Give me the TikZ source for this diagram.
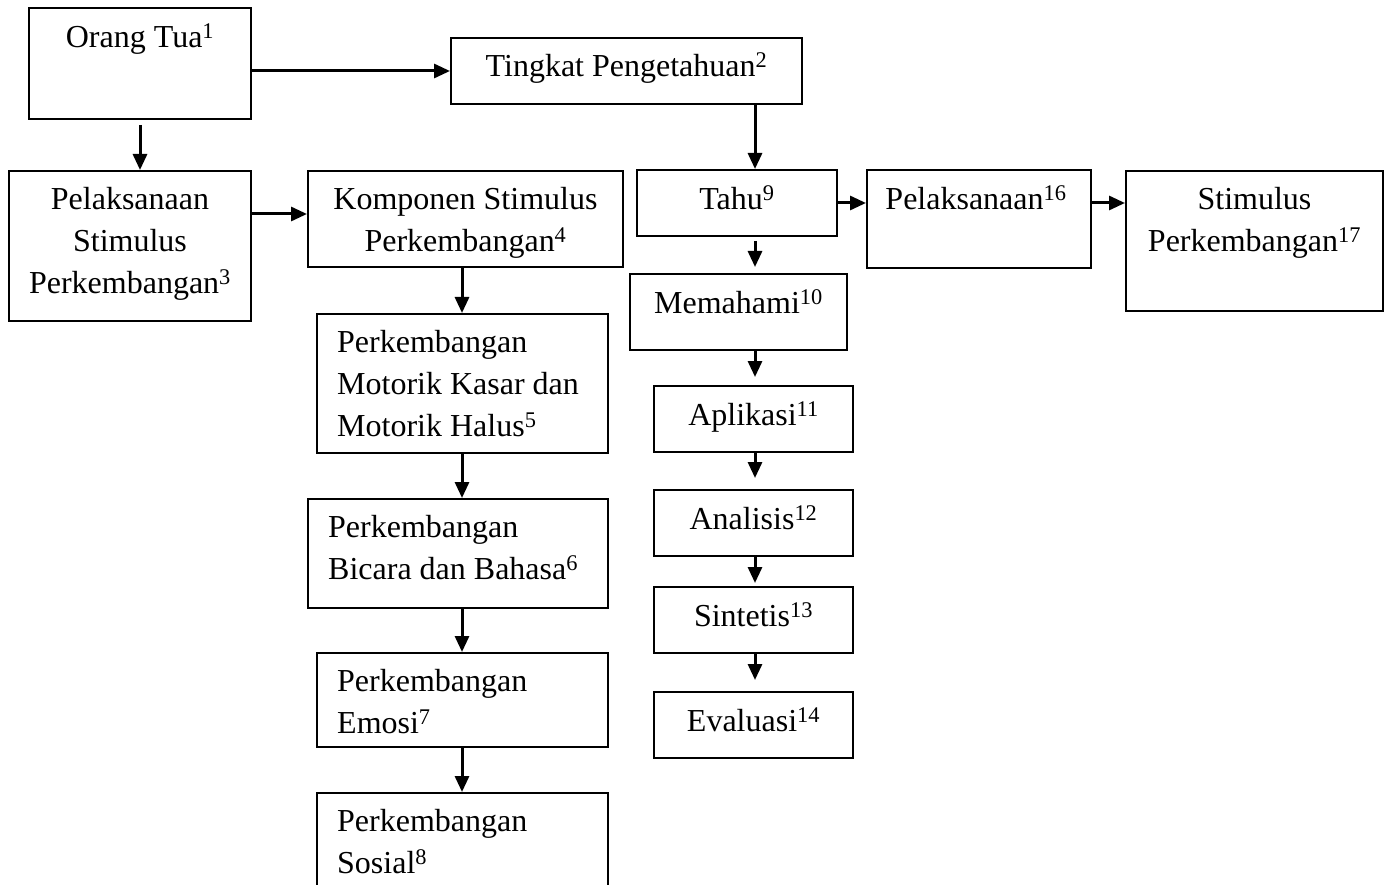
\documentclass[tikz,border=0pt]{standalone}
\usepackage{fontspec}
\setmainfont{Liberation Serif}
\usetikzlibrary{arrows.meta,calc,positioning}

\begin{document}
\begin{tikzpicture}[x=1pt,y=-1pt,>={Triangle[length=16pt,width=14pt]},
  kotak/.style={draw,line width=2pt,anchor=north west,inner sep=0pt},
  teks/.style={font=\fontsize{32}{42}\selectfont,inner sep=0pt,anchor=north,
    align=center,execute at begin node=\strut},
  tekskiri/.style={teks,anchor=north west,align=left},
  panah/.style={->,line width=3pt}]
 \useasboundingbox (0,0) rectangle (1387,885);
 \clip (0,0) rectangle (1387,885);
 % kotak-kotak
 \node[kotak,minimum width=222pt,minimum height=111pt] (ortu) at (28,7) {};
 \node[kotak,minimum width=351pt,minimum height=66pt] (tingkat) at (450,37) {};
 \node[kotak,minimum width=242pt,minimum height=150pt] (pelstim) at (8,170) {};
 \node[kotak,minimum width=315pt,minimum height=96pt] (komponen) at (307,170) {};
 \node[kotak,minimum width=291pt,minimum height=139pt] (motorik) at (316,313) {};
 \node[kotak,minimum width=300pt,minimum height=109pt] (bicara) at (307,498) {};
 \node[kotak,minimum width=291pt,minimum height=94pt] (emosi) at (316,652) {};
 \node[kotak,minimum width=291pt,minimum height=125pt] (sosial) at (316,792) {};
 \node[kotak,minimum width=200pt,minimum height=66pt] (tahu) at (636,169) {};
 \node[kotak,minimum width=217pt,minimum height=76pt] (memahami) at (629,273) {};
 \node[kotak,minimum width=199pt,minimum height=66pt] (aplikasi) at (653,385) {};
 \node[kotak,minimum width=199pt,minimum height=66pt] (analisis) at (653,489) {};
 \node[kotak,minimum width=199pt,minimum height=66pt] (sintetis) at (653,586) {};
 \node[kotak,minimum width=199pt,minimum height=66pt] (evaluasi) at (653,691) {};
 \node[kotak,minimum width=224pt,minimum height=98pt] (pelaksanaan) at (866,169) {};
 \node[kotak,minimum width=257pt,minimum height=140pt] (stimulus) at (1125,170) {};
 % isi teks
 \node[teks] (ortu-t) at ([yshift=-11pt]ortu.north) {Orang Tua\textsuperscript{1}};
 \node[teks] (tingkat-t) at ([yshift=-10pt]tingkat.north) {Tingkat Pengetahuan\textsuperscript{2}};
 \node[teks] (pelstim-t) at ([yshift=-10pt]pelstim.north) {\strut Pelaksanaan\\Stimulus\\Perkembangan\textsuperscript{3}};
 \node[teks] (komponen-t) at ([yshift=-10pt]komponen.north) {\strut Komponen Stimulus\\Perkembangan\textsuperscript{4}};
 \node[tekskiri] (motorik-t) at ([xshift=21pt,yshift=-10pt]motorik.north west) {\strut Perkembangan\\Motorik Kasar dan\\Motorik Halus\textsuperscript{5}};
 \node[tekskiri] (bicara-t) at ([xshift=21pt,yshift=-10pt]bicara.north west) {\strut Perkembangan\\Bicara dan Bahasa\textsuperscript{6}};
 \node[tekskiri] (emosi-t) at ([xshift=21pt,yshift=-10pt]emosi.north west) {\strut Perkembangan\\Emosi\textsuperscript{7}};
 \node[tekskiri] (sosial-t) at ([xshift=21pt,yshift=-10pt]sosial.north west) {\strut Perkembangan\\Sosial\textsuperscript{8}};
 \node[teks] (tahu-t) at ([yshift=-11pt]tahu.north) {Tahu\textsuperscript{9}};
 \node[teks] (memahami-t) at ([yshift=-11pt]memahami.north) {Memahami\textsuperscript{10}};
 \node[teks] (aplikasi-t) at ([yshift=-11pt]aplikasi.north) {Aplikasi\textsuperscript{11}};
 \node[teks] (analisis-t) at ([yshift=-11pt]analisis.north) {Analisis\textsuperscript{12}};
 \node[teks] (sintetis-t) at ([yshift=-11pt]sintetis.north) {Sintetis\textsuperscript{13}};
 \node[teks] (evaluasi-t) at ([yshift=-11pt]evaluasi.north) {Evaluasi\textsuperscript{14}};
 \node[teks] (pelaksanaan-t) at ([xshift=-3pt,yshift=-11pt]pelaksanaan.north) {Pelaksanaan\textsuperscript{16}};
 \node[teks] (stimulus-t) at ([yshift=-10pt]stimulus.north) {\strut Stimulus\\Perkembangan\textsuperscript{17}};
 % panah
 \coordinate (kiri) at (462,0);
 \coordinate (kanan) at (755,0);
 \draw[panah] (ortu.east |- tingkat.west) -- (tingkat.west);
 \draw[panah,shorten <=5pt] (ortu.south) -- (ortu.south |- pelstim.north);
 \draw[panah] ([yshift=5pt]komponen.west -| pelstim.east) -- ([yshift=5pt]komponen.west);
 \draw[panah] (kanan |- tingkat.south) -- (kanan |- tahu.north);
 \draw[panah] (tahu.east) -- (tahu.east -| pelaksanaan.west);
 \draw[panah] (pelaksanaan.east |- tahu.east) -- (stimulus.west |- tahu.east);
 \draw[panah] (kiri |- komponen.south) -- (kiri |- motorik.north);
 \draw[panah] (kiri |- motorik.south) -- (kiri |- bicara.north);
 \draw[panah] (kiri |- bicara.south) -- (kiri |- emosi.north);
 \draw[panah] (kiri |- emosi.south) -- (kiri |- sosial.north);
 \draw[panah,shorten <=4pt,shorten >=6pt] (kanan |- tahu.south) -- (kanan |- memahami.north);
 \draw[panah,shorten >=8pt] (kanan |- memahami.south) -- (kanan |- aplikasi.north);
 \draw[panah,shorten >=11pt] (kanan |- aplikasi.south) -- (kanan |- analisis.north);
 \draw[panah,shorten >=3pt] (kanan |- analisis.south) -- (kanan |- sintetis.north);
 \draw[panah,shorten >=11pt] (kanan |- sintetis.south) -- (kanan |- evaluasi.north);
\end{tikzpicture}
\end{document}
